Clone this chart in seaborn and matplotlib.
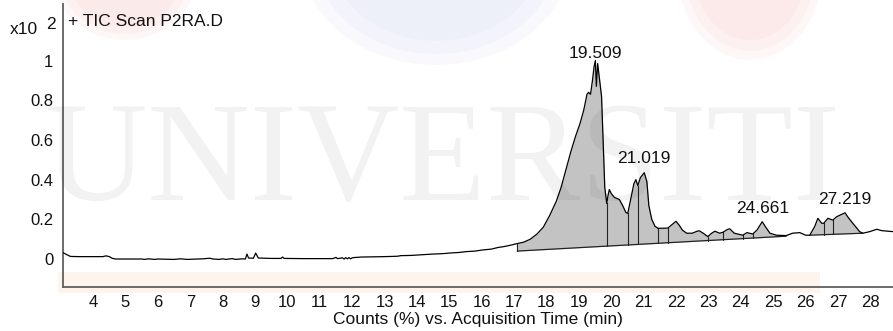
import numpy as np
import pandas as pd
import seaborn as sns
import matplotlib.pyplot as plt
from matplotlib.patches import Ellipse, Rectangle

# TIC trace: acquisition time (min) and counts (x10^2)
time_min = [
    3.07, 3.15, 3.3, 3.6, 4.0, 4.3, 4.4, 4.5, 4.6, 4.7, 5.0, 5.5, 5.6, 5.7, 5.9,
    6.0, 6.5, 6.7, 6.9, 7.2, 7.4, 7.6, 7.7, 7.9, 8.0, 8.1, 8.3, 8.4, 8.6, 8.7,
    8.75, 8.8, 8.95, 9.02, 9.1, 9.5, 9.8, 9.85, 9.9, 10.5, 11.4, 11.5, 11.55,
    11.7, 11.75, 11.8, 11.85, 11.9, 11.95, 12.0, 12.1, 12.3, 13.0, 13.4, 13.5,
    13.8, 14.0, 14.5, 14.8, 15.0, 15.3, 15.5, 15.8, 16.0, 16.3, 16.5, 16.7,
    16.9, 17.1, 17.3, 17.5, 17.7, 17.9, 18.1, 18.3, 18.45, 18.6, 18.75, 18.9,
    19.03, 19.15, 19.25, 19.3, 19.36, 19.42, 19.47, 19.509, 19.54, 19.58,
    19.62, 19.7, 19.76, 19.8, 19.86, 19.9, 19.94, 20.0, 20.1, 20.25, 20.35,
    20.45, 20.51, 20.6, 20.7, 20.76, 20.82, 20.9, 21.019, 21.1, 21.16, 21.25,
    21.35, 21.44, 21.6, 21.75, 21.85, 22.0, 22.1, 22.2, 22.33, 22.5, 22.65,
    22.72, 22.84, 22.98, 23.1, 23.2, 23.35, 23.45, 23.6, 23.66, 23.8, 24.06,
    24.19, 24.37, 24.5, 24.661, 24.76, 24.9, 25.1, 25.4, 25.6, 25.82, 26.0,
    26.13, 26.28, 26.38, 26.5, 26.56, 26.69, 26.84, 26.96, 27.219, 27.3,
    27.46, 27.67, 27.77, 27.98, 28.2, 28.35, 28.7,
]
counts = [
    0.032, 0.025, 0.013, 0.012, 0.012, 0.012, 0.016, 0.012, 0.003, 0.0, 0.0,
    0.0, -0.002, 0.001, -0.002, 0.0, -0.002, 0.001, -0.002, 0.0, 0.001, 0.004,
    0.0, -0.002, 0.001, -0.002, 0.002, -0.002, 0.001, 0.0, 0.025, 0.005,
    0.004, 0.03, 0.005, 0.003, 0.003, 0.01, 0.003, 0.002, 0.002, 0.008, 0.002,
    0.006, 0.0, 0.007, 0.001, 0.007, 0.001, 0.006, 0.008, 0.01, 0.012, 0.014,
    0.017, 0.018, 0.02, 0.025, 0.027, 0.03, 0.033, 0.037, 0.04, 0.045, 0.05,
    0.058, 0.063, 0.07, 0.078, 0.085, 0.1, 0.125, 0.16, 0.22, 0.29, 0.36,
    0.45, 0.54, 0.62, 0.68, 0.75, 0.83, 0.84, 0.83, 0.9, 0.97, 1.0, 0.87,
    0.985, 0.93, 0.82, 0.55, 0.36, 0.28, 0.32, 0.35, 0.33, 0.31, 0.30, 0.27,
    0.235, 0.23, 0.3, 0.38, 0.40, 0.37, 0.41, 0.435, 0.39, 0.27, 0.2, 0.165,
    0.155, 0.155, 0.156, 0.17, 0.19, 0.17, 0.145, 0.13, 0.13, 0.14, 0.142,
    0.13, 0.113, 0.13, 0.14, 0.13, 0.135, 0.15, 0.152, 0.13, 0.12, 0.133,
    0.126, 0.146, 0.188, 0.163, 0.13, 0.12, 0.118, 0.13, 0.133, 0.12, 0.12,
    0.163, 0.205, 0.18, 0.18, 0.205, 0.196, 0.213, 0.233, 0.213, 0.18, 0.138,
    0.13, 0.138, 0.15, 0.143, 0.138,
]

# integration baselines: (start, end) times and baseline counts at each end
baseline_times = [(17.1, 25.4), (26.13, 27.77)]
baseline_counts = [(0.04, 0.115), (0.12, 0.13)]

# peak split (drop) lines
drop_times = [19.86, 20.51, 20.82, 21.44, 21.75, 22.98, 23.45, 24.06, 24.37,
              26.56, 26.84]

# labelled peaks (retention time, label offset in points)
peak_times = [19.509, 21.019, 24.661, 27.219]
peak_offsets = [2, 7, 6, 6]

x_ticks = list(range(4, 29))
y_ticks = [0, 0.2, 0.4, 0.6, 0.8, 1]
y_tick_labels = ["0", "0.2", "0.4", "0.6", "0.8", "1"]

sns.set_theme(style="white")
plt.rcParams["font.family"] = ["Liberation Sans", "DejaVu Sans"]

W, H = 893, 331
fig = plt.figure(figsize=(W / 100, H / 100), dpi=100)


def fx(px):
    return px / W


def fy(py):
    return 1 - py / H


# faint, soft-edged background decoration
for (cx, cy, w, h, col) in [(125, -20, 140, 120, "#f7c8c8"),
                            (436, -45, 270, 220, "#d2d6f0"),
                            (750, -30, 145, 180, "#f9c8c8")]:
    for k, scale in enumerate([1.0, 0.9, 0.78]):
        fig.add_artist(Ellipse((fx(cx), fy(cy)), scale * w / W,
                               scale * h / H, color=col, alpha=0.13,
                               transform=fig.transFigure, zorder=-2, lw=0))
fig.add_artist(Rectangle((fx(58), fy(293)), (820 - 58) / W, 21 / H,
                         color="#fdf4ee", transform=fig.transFigure,
                         zorder=-2, lw=0))

ax = fig.add_axes([fx(63), fy(287), (W - 63) / W, (287 - 4) / H])
ax.patch.set_alpha(0)

df = pd.DataFrame({"time": time_min, "counts": counts})
t = df["time"].to_numpy()
c = df["counts"].to_numpy()

# integrated areas between trace and baseline
for (t0, t1), (b0, b1) in zip(baseline_times, baseline_counts):
    m = (t >= t0) & (t <= t1)
    base = np.interp(t[m], [t0, t1], [b0, b1])
    ax.fill_between(t[m], base, c[m], color="#c3c3c3", lw=0, zorder=1)
    ax.plot([t0, t0], [b0, np.interp(t0, t, c)], color="#222222", lw=0.8,
            zorder=2)
    ax.plot([t1, t1], [b1, np.interp(t1, t, c)], color="#222222", lw=0.8,
            zorder=2)
    ax.plot([t0, t1], [b0, b1], color="#222222", lw=0.9, zorder=2)

for td in drop_times:
    for (t0, t1), (b0, b1) in zip(baseline_times, baseline_counts):
        if t0 <= td <= t1:
            b = np.interp(td, [t0, t1], [b0, b1])
            ax.plot([td, td], [b, np.interp(td, t, c)], color="#222222",
                    lw=0.8, zorder=2)

sns.lineplot(data=df, x="time", y="counts", ax=ax, color="black", lw=0.9,
             estimator=None, sort=False, zorder=3)

for pt, off in zip(peak_times, peak_offsets):
    ax.annotate(f"{pt:.3f}", xy=(pt, np.interp(pt, t, c)),
                xytext=(0, off), textcoords="offset points",
                ha="center", va="baseline", fontsize=12.5, color="#111111")

ax.set_xlim(3.07, 28.7)
ax.set_ylim(-0.141, 1.285)
ax.set_xticks(x_ticks)
ax.set_xticklabels([str(v) for v in x_ticks])
ax.set_yticks(y_ticks)
ax.set_yticklabels(y_tick_labels)
ax.set_xlabel("Counts (%) vs. Acquisition Time (min)", fontsize=12.5,
              labelpad=1, color="#111111")
ax.set_ylabel("")
sns.despine(ax=ax, top=True, right=True)
for s in ("left", "bottom"):
    ax.spines[s].set_color("#606060")
    ax.spines[s].set_linewidth(1.3)
ax.tick_params(axis="x", direction="out", length=4, width=1, color="#606060",
               labelsize=12, pad=2, labelcolor="#111111")
ax.tick_params(axis="y", direction="out", length=5, width=1, color="#606060",
               labelsize=12, pad=2, labelcolor="#111111")

fig.text(fx(10), fy(34), "x10", fontsize=12.5, color="#111111",
         va="baseline", ha="left")
fig.text(fx(46), fy(29), "2", fontsize=12.5, color="#111111",
         va="baseline", ha="left")
fig.text(fx(68), fy(26), "+ TIC Scan P2RA.D", fontsize=12.5,
         color="#111111", va="baseline", ha="left")

# watermark
fig.text(fx(443), fy(200), "UNIVERSITI", family="Liberation Serif",
         fontsize=102, color="black", alpha=0.05, ha="center",
         va="baseline", zorder=5)

fig.savefig("out.png", dpi=100)
